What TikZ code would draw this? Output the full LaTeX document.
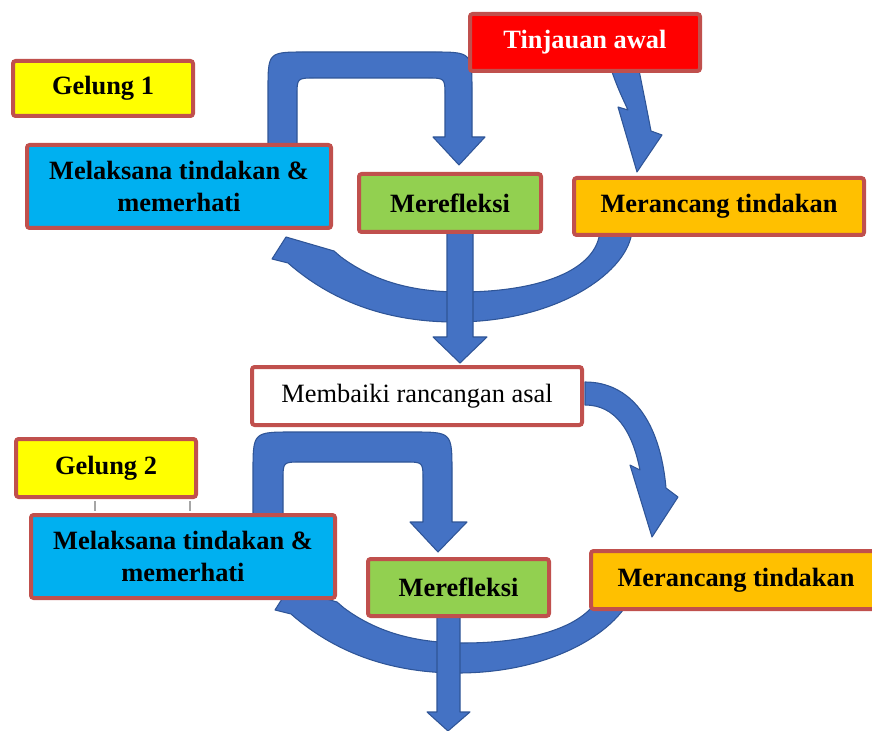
\documentclass[tikz,border=0pt]{standalone}
\usepackage{fontspec}
\setmainfont{Liberation Serif}
\definecolor{boxred}{HTML}{C0504D}
\definecolor{tred}{HTML}{FF0000}
\definecolor{tyellow}{HTML}{FFFF00}
\definecolor{tcyan}{HTML}{00B0F0}
\definecolor{tgreen}{HTML}{92D050}
\definecolor{torange}{HTML}{FFC000}
\definecolor{arrowblue}{HTML}{4472C4}
\definecolor{arrowedge}{HTML}{2F5597}
\begin{document}
\begin{tikzpicture}[x=0.75pt,y=-0.75pt,
  box/.style={draw=boxred, line width=3pt, rounded corners=2pt, inner sep=0pt,
    align=center, font=\bfseries\fontsize{19.8}{24.5}\selectfont},
  sz/.style 2 args={minimum width=#1*0.75pt, minimum height=#2*0.75pt},
  barrow/.style={fill=arrowblue, draw=arrowedge, line width=0.8pt, line join=round},
  tick/.style={draw=gray!70, line width=1.6pt, shorten <=1.5pt, shorten >=1.5pt}]
\useasboundingbox (0,0) rectangle (872,731);

% loop 1: U arrow
\path[barrow] (268,150) -- (268,90) .. controls (268,52) .. (306,52) -- (432,52)
  .. controls (472,52) .. (472,92) -- (472,137) -- (485,137) -- (459,165) -- (433,137)
  -- (445,137) -- (445,96) .. controls (445,78) .. (427,78) -- (315,78)
  .. controls (297,78) .. (297,96) -- (297,150) -- cycle;
% Tinjauan -> Merancang
\path[barrow] (608,60) .. controls (616,85) and (622,97) .. (628,110) -- (618,107)
  -- (637,172) -- (662,135) -- (651,131) .. controls (647,110) and (642,85) .. (637,60) -- cycle;
% loop 1: bottom curve
\path[barrow] (600,230) .. controls (598,270) and (540,292) .. (460,292)
  .. controls (410,292) and (372,280) .. (341,257) -- (334,251) -- (286,237) -- (272,259)
  -- (288,263) .. controls (330,300) and (385,322) .. (455,322)
  .. controls (560,322) and (630,270) .. (632,230) -- cycle;
% loop 1: down arrow
\path[barrow] (447,230) -- (447,337) -- (433,337) -- (460,363) -- (487,337) -- (473,337) -- (473,230) -- cycle;
% Membaiki -> Merancang 2
\path[barrow] (585,382) .. controls (630,382) and (660,420) .. (666,488) -- (678,497)
  -- (652,537) -- (630,465) -- (640,470) .. controls (632,430) and (615,405) .. (585,405) -- cycle;
% loop 2: U arrow
\path[barrow] (253,520) -- (253,472) .. controls (253,432) .. (293,432) -- (412,432)
  .. controls (452,432) .. (452,472) -- (452,522) -- (467,522) -- (438,552) -- (410,522)
  -- (423,522) -- (423,480) .. controls (423,462) .. (405,462) -- (301,462)
  .. controls (283,462) .. (283,480) -- (283,520) -- cycle;
% loop 2: bottom curve
\begin{scope}[shift={(3,351)}]
\path[barrow] (600,230) .. controls (598,270) and (540,292) .. (460,292)
  .. controls (410,292) and (372,280) .. (341,257) -- (334,251) -- (286,237) -- (272,259)
  -- (288,263) .. controls (330,300) and (385,322) .. (455,322)
  .. controls (560,322) and (630,270) .. (632,230) -- cycle;
\end{scope}
% loop 2: down arrow
\path[barrow] (437,612) -- (437,712) -- (427,712) -- (448,731) -- (470,712) -- (460,712) -- (460,612) -- cycle;

% boxes
\node[box, fill=tred, text=white, sz={230}{57}] (tin) at (585,42.5) {Tinjauan awal};
\node[box, fill=tyellow, sz={180}{55}] (g1) at (103,88.5) {Gelung 1};
\node[box, fill=tcyan, sz={304}{83}] (mel1) at (179,186.5) {Melaksana tindakan \&\\memerhati};
\node[box, fill=tgreen, sz={182}{58}] (ref1) at (450,203) {Merefleksi};
\node[box, fill=torange, sz={290}{57}] (ran1) at (719,206.5) {Merancang tindakan};
\node[box, fill=white, font=\fontsize{19.8}{24.5}\selectfont, sz={330}{58}] (mem) at (417,396) {Membaiki rancangan asal};
\node[box, fill=tyellow, sz={180}{58}] (g2) at (106,468) {Gelung 2};
\node[box, fill=tcyan, sz={304}{83}] (mel2) at (183,556.5) {Melaksana tindakan \&\\memerhati};
\node[box, fill=tgreen, sz={181}{57}] (ref2) at (458.5,587.5) {Merefleksi};
\node[box, fill=torange, sz={290}{58}] (ran2) at (736,580) {Merancang tindakan};

\draw[tick] ([xshift=-8.25pt]g2.south) -- ([xshift=-8.25pt]g2.south |- mel2.north);
\draw[tick] ([xshift=63pt]g2.south) -- ([xshift=63pt]g2.south |- mel2.north);
\end{tikzpicture}
\end{document}
